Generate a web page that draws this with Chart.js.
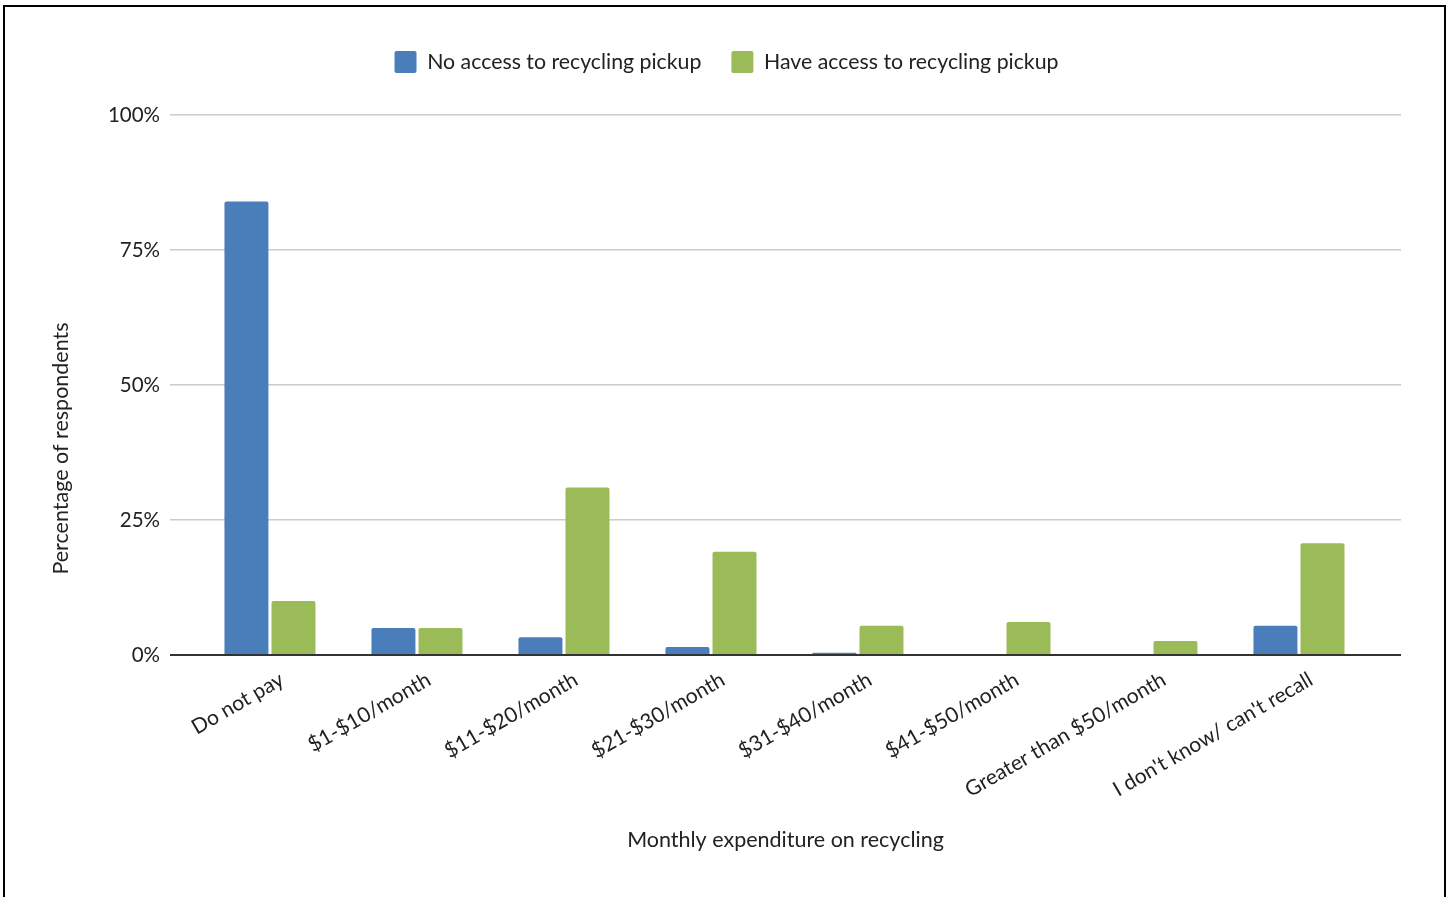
<!DOCTYPE html>
<html>
<head>
<meta charset="utf-8">
<script src="https://cdn.jsdelivr.net/npm/chart.js@4/dist/chart.umd.min.js"></script>
<style>
  html, body { margin: 0; padding: 0; background: #fff; }
  #wrap { position: absolute; left: 0; top: 0; width: 1453px; height: 897px; }
  #frame { position: absolute; left: 3px; top: 5px; width: 1443px; height: 900px; border: 2px solid #000; box-sizing: border-box; pointer-events: none; }
</style>
</head>
<body>
<div id="wrap"><canvas id="c" width="1453" height="897"></canvas></div>
<div id="frame"></div>
<script>
const categories = ["Do not pay", "$1-$10/month", "$11-$20/month", "$21-$30/month", "$31-$40/month", "$41-$50/month", "Greater than $50/month", "I don't know/ can't recall"];
const noAccess = [84, 5.0, 3.3, 1.5, 0.4, 0, 0, 5.4];
const haveAccess = [10, 5.0, 31, 19.1, 5.4, 6.1, 2.6, 20.7];
const seriesNames = ["No access to recycling pickup", "Have access to recycling pickup"];
const yTicks = [0, 25, 50, 75, 100];
const xTitle = "Monthly expenditure on recycling";
const yTitle = "Percentage of respondents";

const FONT = "Lato, 'Noto Sans', sans-serif";
const toPoints = arr => arr.map((v, i) => ({ x: i, y: v }));

const layoutTweaks = {
  id: 'layoutTweaks',
  beforeInit(chart) {
    const fit = chart.legend.fit;
    chart.legend.fit = function () { fit.call(this); this.height += 32; };
  },
  afterLayout(chart) {
    // centre the legend on the whole canvas rather than on the padded area
    chart.legend.left += 26;
    chart.legend.right += 26;
  },
  afterDraw(chart) {
    // y-axis title, centred on the canvas height as in the reference
    const ctx = chart.ctx;
    ctx.save();
    ctx.translate(61, chart.height / 2);
    ctx.rotate(-Math.PI / 2);
    ctx.font = "21.5px " + FONT;
    ctx.fillStyle = '#222';
    ctx.textAlign = 'center';
    ctx.textBaseline = 'middle';
    ctx.fillText(yTitle, 0, 0);
    ctx.restore();
  }
};

new Chart(document.getElementById('c'), {
  type: 'bar',
  data: {
    datasets: [
      { label: seriesNames[0], data: toPoints(noAccess), backgroundColor: '#4a7ebb', borderRadius: { topLeft: 2, topRight: 2 } },
      { label: seriesNames[1], data: toPoints(haveAccess), backgroundColor: '#9bbb59', borderRadius: { topLeft: 2, topRight: 2 } }
    ]
  },
  plugins: [layoutTweaks],
  options: {
    responsive: false,
    animation: false,
    categoryPercentage: 0.64,
    barPercentage: 0.935,
    layout: { padding: { left: 0, right: 52, top: 21, bottom: 0 } },
    plugins: {
      legend: {
        position: 'top',
        labels: {
          boxWidth: 22, boxHeight: 22, padding: 30, color: '#222',
          useBorderRadius: true, borderRadius: 2,
          font: { family: FONT, size: 21.3 }
        }
      },
      tooltip: { enabled: false }
    },
    scales: {
      x: {
        type: 'linear',
        offset: false,
        min: -0.68, max: 7.694,
        grid: { display: false, drawTicks: false },
        border: { display: false },
        afterFit(scale) { scale.height = 242; },
        ticks: {
          stepSize: 1, includeBounds: false, autoSkip: false,
          minRotation: 30, maxRotation: 30, padding: 12, labelOffset: 12,
          color: '#222', font: { family: FONT, size: 21 },
          callback: v => Number.isInteger(v) && categories[v] !== undefined ? categories[v] : ''
        },
        title: {
          display: true, text: xTitle, color: '#222',
          font: { family: FONT, size: 21.5 }, padding: { top: 4, bottom: 44 }
        }
      },
      y: {
        min: 0, max: 100,
        afterFit(scale) { scale.width = 170; },
        afterBuildTicks(scale) { scale.ticks = yTicks.map(v => ({ value: v })); },
        border: { display: false },
        grid: {
          drawTicks: false,
          color: ctx => ctx.tick && ctx.tick.value === 0 ? '#333' : '#cccccc',
          lineWidth: ctx => ctx.tick && ctx.tick.value === 0 ? 2 : 1.5
        },
        ticks: {
          padding: 10, color: '#222', font: { family: FONT, size: 20.5 },
          callback: v => v + '%'
        },
        title: { display: false }
      }
    }
  }
});
</script>
</body>
</html>
